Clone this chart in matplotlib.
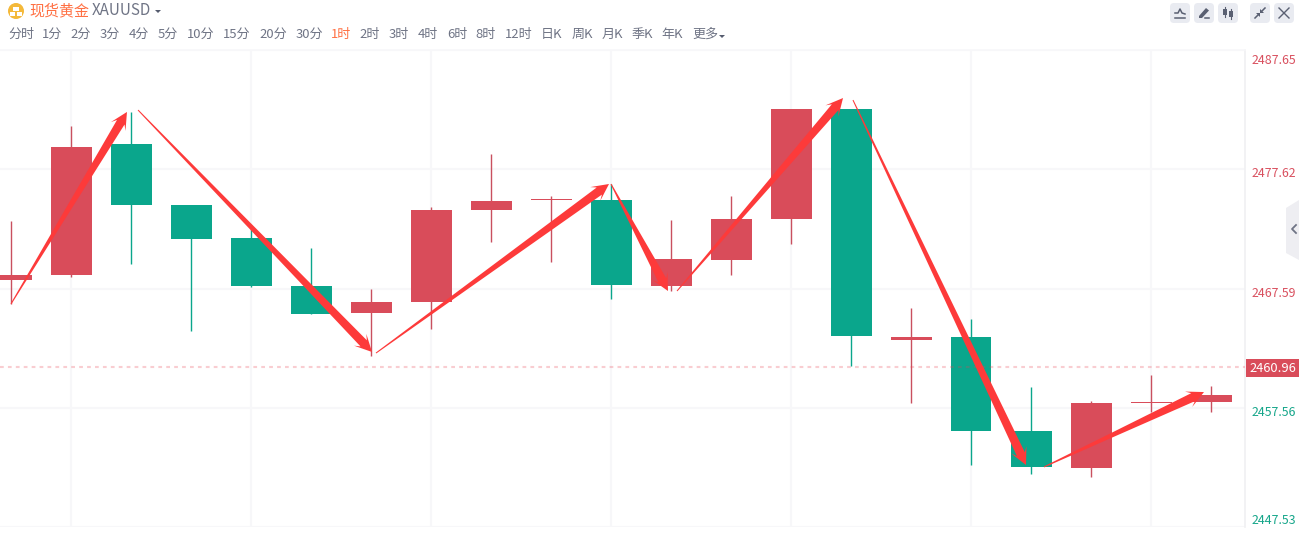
import numpy as np
import matplotlib
matplotlib.use("Agg")
import matplotlib.pyplot as plt
from matplotlib.patches import Polygon, FancyBboxPatch, Circle, Rectangle
from matplotlib.transforms import ScaledTranslation

plt.rcParams['font.family'] = ['Noto Sans CJK SC', 'DejaVu Sans']

# ---- data ----
opens  = [2468.31, 2468.73, 2479.74, 2474.61, 2471.84, 2467.80, 2465.53, 2466.45, 2474.19, 2475.03, 2475.03,
          2467.80, 2469.99, 2473.44, 2482.69, 2463.26, 2463.51, 2455.60, 2452.49, 2457.96, 2458.04]
closes = [2468.73, 2479.49, 2474.61, 2471.75, 2467.80, 2465.45, 2466.45, 2474.19, 2474.95, 2475.12, 2467.88,
          2470.07, 2473.44, 2482.69, 2463.60, 2463.51, 2455.60, 2452.58, 2457.96, 2458.04, 2458.63]
highs  = [2473.27, 2481.26, 2482.44, 2474.61, 2472.59, 2471.00, 2467.55, 2474.45, 2478.90, 2475.37, 2476.38,
          2473.35, 2475.37, 2482.69, 2482.69, 2465.95, 2465.02, 2459.31, 2458.13, 2460.31, 2459.39]
lows   = [2466.29, 2468.56, 2469.65, 2464.02, 2467.72, 2465.45, 2461.91, 2464.18, 2471.50, 2469.82, 2466.71,
          2467.38, 2468.73, 2471.33, 2461.07, 2457.96, 2452.74, 2451.99, 2451.74, 2457.20, 2457.20]

price_ticks = [2487.65, 2477.62, 2467.59, 2457.56, 2447.53]
price_colors = ['#d9505f', '#d9505f', '#d9505f', '#16a68a', '#16a68a']
last_price = 2460.96

arrow_x0 = [0.0, 2.117, 6.083, 10.0, 11.1, 14.033, 17.217]
arrow_y0 = [2466.29, 2482.60, 2462.16, 2476.38, 2467.38, 2483.44, 2452.58]
arrow_x1 = [1.933, 6.017, 9.967, 10.95, 13.867, 16.917, 19.883]
arrow_y1 = [2482.44, 2462.25, 2476.38, 2467.38, 2483.61, 2452.74, 2458.88]

periods = ['分时', '1分', '2分', '3分', '4分', '5分', '10分', '15分', '20分', '30分', '1时', '2时', '3时',
           '4时', '6时', '8时', '12时', '日K', '周K', '月K', '季K', '年K', '更多']
period_px = [21, 52, 81, 110, 139, 168, 201, 237, 273, 309, 341, 370, 399, 428, 457, 486, 519, 552, 582,
             612, 642, 672, 705]

RED = '#d94c5a'
GREEN = '#0aa68c'
WICK_RED = '#c9505f'
ARROW = '#fd3a3a'
GRAY = '#6f7485'
ORANGE = '#ff7043'
GRID = '#f7f7f9'

W, H = 1299, 547
fig = plt.figure(figsize=(W / 100, H / 100), dpi=100, facecolor='white')

# chrome overlay in pixel coordinates
bg = fig.add_axes([0, 0, 1, 1], zorder=0)
bg.set_xlim(0, W)
bg.set_ylim(H, 0)
bg.axis('off')

# price pane: x 0..1245 px, y 50..527 px
ax = fig.add_axes([0, (H - 527) / H, 1245 / W, 477 / H], zorder=1)
ax.patch.set_alpha(0)
ax.set_xlim(-11 / 60, 1234 / 60)
ax.set_ylim(2447.53, 2487.65)

x = np.arange(len(opens))
o, c, h, l = map(np.array, (opens, closes, highs, lows))
up = c >= o
ax.vlines(x[up], l[up], h[up], color=WICK_RED, lw=1.0, zorder=3)
ax.vlines(x[~up], l[~up], h[~up], color=GREEN, lw=1.0, zorder=3)
ax.bar(x, np.abs(c - o), bottom=np.minimum(o, c), width=41 / 60,
       color=[RED if u else GREEN for u in up], linewidth=0, zorder=4)

ax.set_xticks(np.arange(1, 20, 3))
ax.set_xticklabels([])
ax.set_yticks(price_ticks)
ax.set_yticklabels([f'{p:.2f}' for p in price_ticks], fontsize=8.9)
ax.yaxis.tick_right()
ax.tick_params(axis='both', length=0)
ax.tick_params(axis='y', pad=5)
ax.grid(True, color=GRID, lw=1.5, zorder=0)
ax.set_axisbelow(True)
for s in ('left', 'bottom'):
    ax.spines[s].set_visible(False)
ax.spines['top'].set_color(GRID)
ax.spines['right'].set_color('#f0f0f2')
ax.spines['right'].set_linewidth(1.2)
ax.spines['top'].set_linewidth(1.2)

offsets = [-9, -3, -3, -3, 8]
for lab, col, off in zip(ax.get_yticklabels(), price_colors, offsets):
    lab.set_color(col)
    lab.set_transform(lab.get_transform() + ScaledTranslation(0, off / 100, fig.dpi_scale_trans))

# last price line and tag
ax.axhline(last_price, color='#e8404f', alpha=0.26, lw=1.5, dashes=(1.8, 2.0), zorder=5)
bg.add_patch(Rectangle((1246, 359), 53, 18, color=RED, lw=0, zorder=3))
bg.text(1272.8, 368.2, f'{last_price:.2f}', color='white', fontsize=9.3, ha='center', va='center',
        fontweight='medium', zorder=4)

# tapered arrows
fig.canvas.draw()
inv = ax.transData.inverted()
for x0, y0, x1, y1 in zip(arrow_x0, arrow_y0, arrow_x1, arrow_y1):
    a, b = ax.transData.transform([(x0, y0), (x1, y1)])
    u = (b - a) / np.hypot(*(b - a))
    n = np.array([-u[1], u[0]])
    pts = [a + n * 0.5,
           b - u * 12 + n * 4.4,
           b - u * 17 + n * 8.5,
           b,
           b - u * 17 - n * 8.5,
           b - u * 12 - n * 4.4,
           a - n * 0.5]
    ax.add_patch(Polygon(inv.transform(pts), closed=True, fc=ARROW, ec='none', zorder=6, clip_on=False))

# header
bg.add_patch(Circle((16, 11), 8, color='#f4b93a', lw=0))
for cx, cy in ((16, 8.5), (12.7, 13.5), (19.3, 13.5)):
    bg.add_patch(Rectangle((cx - 2.6, cy - 2), 5.2, 4, color='white', lw=0))
bg.text(29, 10.5, '现货黄金', color=ORANGE, fontsize=10.8, ha='left', va='center')
bg.text(92, 10.5, 'XAUUSD', color=GRAY, fontsize=10.9, ha='left', va='center')
bg.add_patch(Polygon([(155, 10), (161, 10), (158, 13)], color='#555b6e', lw=0))

for lab, px in zip(periods, period_px):
    bg.text(px, 34.5, lab, color=ORANGE if lab == '1时' else GRAY, fontsize=9.4, ha='center', va='center')
bg.add_patch(Polygon([(719, 35), (725, 35), (722, 38)], color='#555b6e', lw=0))

# toolbar buttons
ICON = '#5a6072'
for bx in (1170, 1194, 1218, 1250, 1274):
    bg.add_patch(FancyBboxPatch((bx + 3, 6), 14, 14, boxstyle='round,pad=3,rounding_size=4',
                                fc='#e9ebf1', ec='none'))
# indicator icon
bg.plot([1175, 1185], [18, 18], color=ICON, lw=1.1)
bg.plot([1175, 1178, 1180, 1182, 1185], [13, 13, 9, 13, 14], color=ICON, lw=1.1)
# pencil icon
bg.add_patch(Polygon([(1199, 16), (1206, 8), (1209, 10.5), (1202, 18), (1199, 18)], color=ICON, lw=0))
bg.plot([1205, 1209], [18, 18], color=ICON, lw=1.1)
# candle icon
for bx, y0, y1, yl0, yl1 in ((1225, 9, 15, 7, 17), (1231, 11, 17, 9, 19)):
    bg.plot([bx, bx], [yl0, yl1], color=ICON, lw=0.8)
    bg.add_patch(Rectangle((bx - 2, y0), 4, y1 - y0, color=ICON, lw=0))
# collapse icon
bg.plot([1255, 1259], [18, 14], color=ICON, lw=1.1)
bg.plot([1261, 1265], [12, 8], color=ICON, lw=1.1)
bg.add_patch(Polygon([(1260, 13), (1256, 13), (1260, 17)], color=ICON, lw=0))
bg.add_patch(Polygon([(1260, 13), (1264, 13), (1260, 9)], color=ICON, lw=0))
# close icon
bg.plot([1279, 1289], [8, 18], color=ICON, lw=1.0)
bg.plot([1279, 1289], [18, 8], color=ICON, lw=1.0)

# side tab
bg.add_patch(Polygon([(1286, 208), (1299, 200), (1299, 260), (1286, 253)], color='#eeeef2', lw=0))
bg.plot([1296, 1292, 1296], [225, 229, 233], color='#6f7485', lw=1.3)

fig.savefig('out.png', dpi=100, facecolor='white')
